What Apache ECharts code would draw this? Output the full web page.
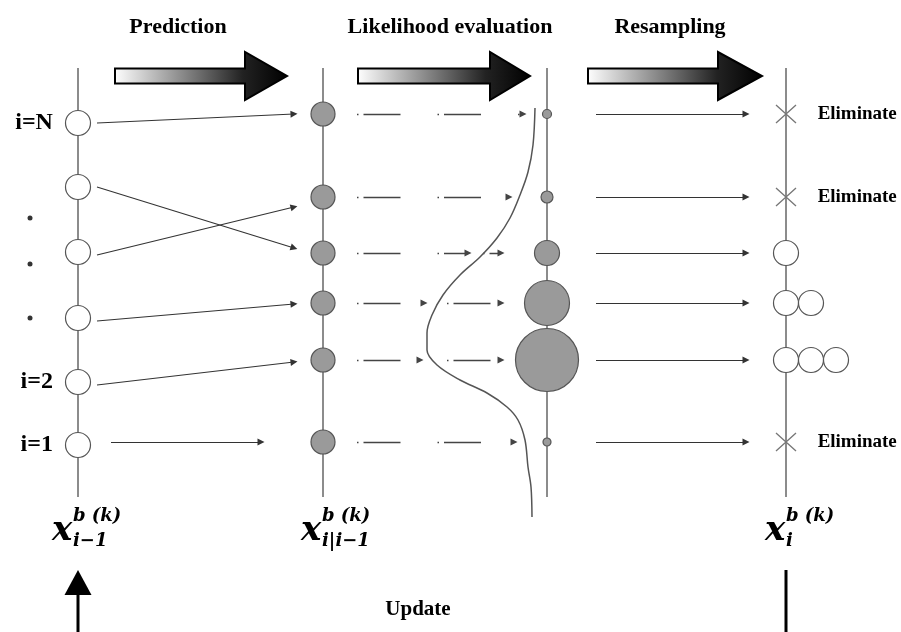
<!DOCTYPE html>
<html><head><meta charset="utf-8">
<script src="https://cdn.jsdelivr.net/npm/echarts/dist/echarts.min.js"></script>
<style>html,body{margin:0;padding:0;background:#fff}#c{width:901px;height:632px}</style>
</head><body><div id="c"></div><script>
// ---- data ----
const stageTitles = ['Prediction', 'Likelihood evaluation', 'Resampling'];
const rowLabels = ['i=N', '', '', '', 'i=2', 'i=1'];
const priorRows = [123, 187, 252, 318, 382, 445];      // particles x_{i-1}
const predRows = [114, 197, 253, 303, 360, 442];       // predicted particles
const transFromY = [123, 187, 255, 321, 385, 442];
const transToY = [114, 248, 207, 304, 362, 442];
const transStartX = [97, 97, 97, 97, 97, 111];
const transEndX = [298, 298, 298, 298, 298, 265];
const weightDiam = [9, 12, 25, 45, 63, 8];             // likelihood weights
const curveHitX = [null, null, 472, 428, 424, null];
const afterHitX = [null, null, 483, 447, 447, null];
const likeEndX = [527, 513, 505, 505, 505, 518];
const copies = [0, 0, 1, 2, 3, 0];                      // resampled copies
const curveX = [535, 533, 528, 520, 510, 497, 480, 460, 443, 432, 427, 427, 437, 460, 487, 507, 518, 525, 528, 531, 532];
const curveY = [108, 145, 172, 195, 218, 238, 257, 275, 295, 315, 333, 350, 365, 380, 393, 407, 420, 440, 467, 487, 517];
const dotRows = [218, 264, 318];
const stageArrows = [[115, 245, 287], [358, 490, 530], [588, 718, 762]];

// ---- layout ----
const colX = [78, 323, 547, 786];
const axisTop = 68, axisBottom = 497;
const AH = 4; // half arrow-head

const vlines = colX.map(x => ({coords: [[x, axisTop], [x, axisBottom]]}));
const predLinks = transFromY.map((y, i) => ({coords: [[transStartX[i], y], [transEndX[i] - AH, transToY[i]]]}));
const likeLinks = [];
predRows.forEach((y, i) => {
  if (curveHitX[i] != null) {
    likeLinks.push({coords: [[357, y], [curveHitX[i] - AH, y]]});
    likeLinks.push({coords: [[afterHitX[i], y], [likeEndX[i] - AH, y]]});
  } else {
    likeLinks.push({coords: [[357, y], [likeEndX[i] - AH, y]]});
  }
});
const resLinks = predRows.map(y => ({coords: [[596, y], [750 - AH, y]]}));

const resCircles = [], elimMarks = [];
predRows.forEach((y, i) => {
  if (copies[i] === 0) elimMarks.push([colX[3], y]);
  for (let j = 0; j < copies[i]; j++) resCircles.push([colX[3] + 25 * j, y]);
});

const serif = '"Liberation Serif", "Times New Roman", serif';
const mathF = '"DejaVu Serif", serif';

function mathLabel(x, sub) {
  return [
    {type: 'text', x: x, y: 531, style: {text: 'x', font: 'italic bold 34px ' + mathF, fill: '#000', align: 'left', verticalAlign: 'middle'}},
    {type: 'text', x: x + 21, y: 516, style: {text: 'b (k)', font: 'italic bold 18px ' + mathF, fill: '#000', align: 'left', verticalAlign: 'middle'}},
    {type: 'text', x: x + 21, y: 541, style: {text: sub, font: 'italic bold 18px ' + mathF, fill: '#000', align: 'left', verticalAlign: 'middle'}}
  ];
}

const titleX = [178, 450, 670];
const graphics = stageTitles.map((t, i) => ({
  type: 'text', x: titleX[i], y: 27,
  style: {text: t, font: 'bold 22px ' + serif, fill: '#000', align: 'center', verticalAlign: 'middle'}
})).concat([
  {type: 'text', x: 418, y: 610, style: {text: 'Update', font: 'bold 21px ' + serif, fill: '#000', align: 'center', verticalAlign: 'middle'}}
]).concat(mathLabel(52, 'i\u22121')).concat(mathLabel(301, 'i|i\u22121')).concat(mathLabel(765, 'i'));

const chart = echarts.init(document.getElementById('c'), null, {renderer: 'canvas'});
chart.setOption({
  backgroundColor: '#fff',
  animation: false,
  grid: {left: 0, right: 0, top: 0, bottom: 0},
  xAxis: {type: 'value', min: 0, max: 901, show: false},
  yAxis: {type: 'value', min: 0, max: 632, inverse: true, show: false},
  graphic: graphics,
  series: [
    {type: 'lines', coordinateSystem: 'cartesian2d', z: 1, silent: true,
     lineStyle: {color: '#666', width: 1.5, opacity: 1}, data: vlines},
    {type: 'lines', coordinateSystem: 'cartesian2d', z: 2, silent: true,
     symbol: ['none', 'triangle'], symbolSize: 7,
     lineStyle: {color: '#333', width: 1.1, opacity: 1}, data: predLinks},
    {type: 'lines', coordinateSystem: 'cartesian2d', z: 2, silent: true,
     symbol: ['none', 'triangle'], symbolSize: 7,
     lineStyle: {color: '#444', width: 1.4, opacity: 1, type: [1.5, 5, 37, 37]}, data: likeLinks},
    {type: 'lines', coordinateSystem: 'cartesian2d', z: 2, silent: true,
     symbol: ['none', 'triangle'], symbolSize: 7,
     lineStyle: {color: '#333', width: 1.1, opacity: 1}, data: resLinks},
    {type: 'line', z: 2, smooth: 0.35, showSymbol: false, silent: true,
     lineStyle: {color: '#555', width: 1.5},
     data: curveX.map((x, i) => [x, curveY[i]])},
    {type: 'scatter', z: 3, silent: true, symbolSize: 25,
     itemStyle: {color: '#fff', borderColor: '#555', borderWidth: 1.2, opacity: 1},
     label: {show: true, position: 'left', distance: 12,
       formatter: p => rowLabels[p.dataIndex],
       fontFamily: serif, fontWeight: 'bold', fontSize: 24, color: '#000'},
     data: priorRows.map(y => [colX[0], y])},
    {type: 'scatter', z: 3, silent: true, symbolSize: 24,
     itemStyle: {color: '#9a9a9a', borderColor: '#555', borderWidth: 1.2, opacity: 1},
     data: predRows.map(y => [colX[1], y])},
    {type: 'scatter', z: 3, silent: true,
     symbolSize: (v, p) => weightDiam[p.dataIndex],
     itemStyle: {color: '#9a9a9a', borderColor: '#555', borderWidth: 1.2, opacity: 1},
     data: predRows.map(y => [colX[2], y])},
    {type: 'scatter', z: 3, silent: true, symbolSize: 25,
     itemStyle: {color: '#fff', borderColor: '#555', borderWidth: 1.2, opacity: 1},
     data: resCircles},
    {type: 'scatter', z: 3, silent: true, symbol: 'path://M0,0L20,18M0,18L20,0', symbolSize: [20, 18],
     itemStyle: {color: 'none', borderColor: '#777', borderWidth: 1.2, opacity: 1},
     label: {show: true, position: 'right', distance: 19, formatter: 'Eliminate',
       fontFamily: serif, fontWeight: 'bold', fontSize: 19, color: '#000'},
     data: elimMarks},
    {type: 'scatter', z: 3, silent: true, symbolSize: 5,
     itemStyle: {color: '#000'}, data: dotRows.map(y => [30, y])},
    {type: 'custom', z: 4, silent: true,
     renderItem: function (params, api) {
       const yc = 76;
       const x0 = api.value(0), xb = api.value(1), xt = api.value(2);
       const c = (x, dy) => { const p = api.coord([x, yc]); return [p[0], p[1] + dy]; };
       const pts = [c(x0, -7.5), c(xb, -7.5), c(xb, -24), c(xt, 0), c(xb, 24), c(xb, 7.5), c(x0, 7.5)];
       return {type: 'polygon', shape: {points: pts},
         style: {fill: new echarts.graphic.LinearGradient(0, 0, 1, 0, [
           {offset: 0, color: '#ffffff'}, {offset: 0.74, color: '#222'}, {offset: 1, color: '#000'}]),
           stroke: '#000', lineWidth: 2}};
     },
     data: stageArrows},
    {type: 'custom', z: 4, silent: true,
     renderItem: function (params, api) {
       const tip = api.coord([api.value(0), api.value(1)]);
       const bot = api.coord([api.value(0), 632]);
       if (params.dataIndex === 0) {
         return {type: 'group', children: [
           {type: 'polygon', shape: {points: [tip, [tip[0] + 13.5, tip[1] + 25], [tip[0] - 13.5, tip[1] + 25]]}, style: {fill: '#000'}},
           {type: 'line', shape: {x1: tip[0], y1: tip[1] + 20, x2: bot[0], y2: bot[1]}, style: {stroke: '#000', lineWidth: 3}}
         ]};
       }
       return {type: 'line', shape: {x1: tip[0], y1: tip[1], x2: bot[0], y2: bot[1]}, style: {stroke: '#000', lineWidth: 3}};
     },
     data: [[colX[0], 570], [colX[3], 570]]}
  ]
});
</script></body></html>
